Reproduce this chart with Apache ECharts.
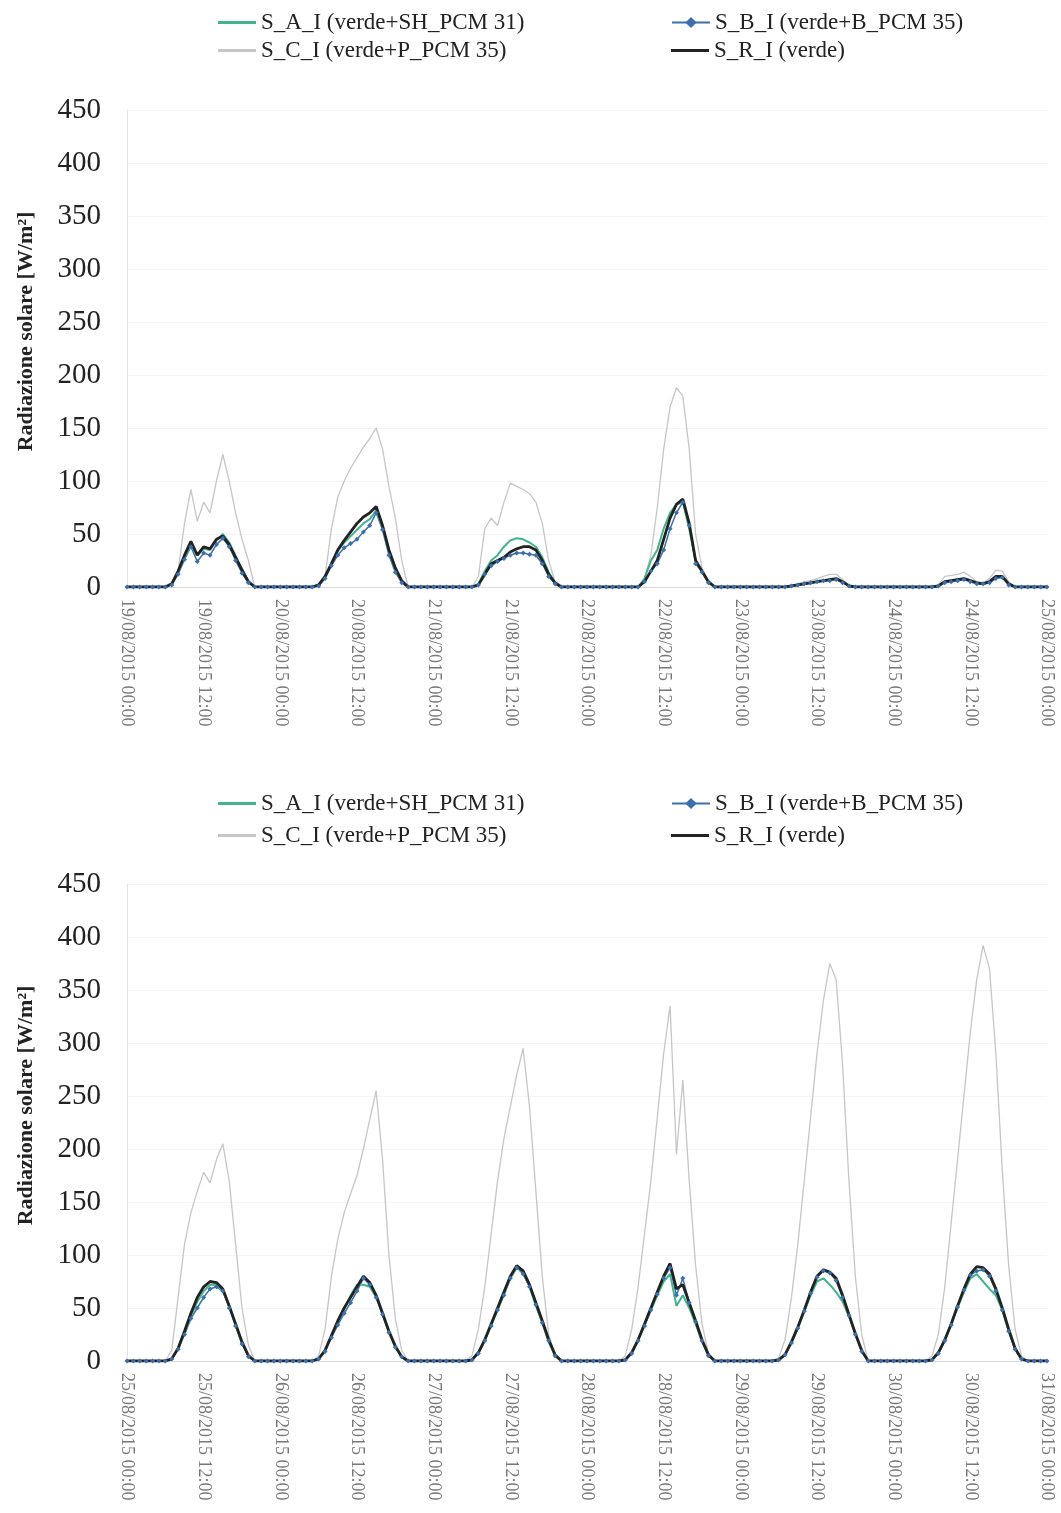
<!DOCTYPE html>
<html>
<head>
<meta charset="utf-8">
<script src="https://cdn.jsdelivr.net/npm/echarts@6/dist/echarts.min.js"></script>
<style>html,body{margin:0;padding:0;background:#fff}#c{width:1061px;height:1513px}</style>
</head>
<body>
<div id="c"></div>
<script>
// ---------- names ----------
const seriesNames = ['S_A_I (verde+SH_PCM 31)', 'S_B_I (verde+B_PCM 35)', 'S_C_I (verde+P_PCM 35)', 'S_R_I (verde)'];

// ---------- tick labels (every 12 hours) ----------
const topTicks = ['19/08/2015 00:00','19/08/2015 12:00','20/08/2015 00:00','20/08/2015 12:00','21/08/2015 00:00','21/08/2015 12:00','22/08/2015 00:00','22/08/2015 12:00','23/08/2015 00:00','23/08/2015 12:00','24/08/2015 00:00','24/08/2015 12:00','25/08/2015 00:00'];
const botTicks = ['25/08/2015 00:00','25/08/2015 12:00','26/08/2015 00:00','26/08/2015 12:00','27/08/2015 00:00','27/08/2015 12:00','28/08/2015 00:00','28/08/2015 12:00','29/08/2015 00:00','29/08/2015 12:00','30/08/2015 00:00','30/08/2015 12:00','31/08/2015 00:00'];
const yTicks = [0, 50, 100, 150, 200, 250, 300, 350, 400, 450];

// ---------- hourly values, top chart (19/08 - 25/08) ----------
const topA = [
0,0,0,0,0,0,0,3,14,28,40,30,36,35,44,50,42,29,17,5,0,0,0,0,
0,0,0,0,0,0,2,10,22,34,42,48,54,60,64,72,56,33,16,5,0,0,0,0,
0,0,0,0,0,0,0,3,15,25,30,38,44,46,45,42,38,28,14,4,0,0,0,0,
0,0,0,0,0,0,0,0,0,8,25,35,55,70,78,80,55,25,15,5,0,0,0,0,
0,0,0,0,0,0,0,0,1,2,3,4,5,6,7,7,5,1,0,0,0,0,0,0,
0,0,0,0,0,0,0,1,5,6,7,8,6,4,3,5,9,10,3,0,0,0,0,0,
0];
const topB = [
0,0,0,0,0,0,0,2,12,26,38,24,32,30,40,46,38,25,13,4,0,0,0,0,
0,0,0,0,0,0,1,8,20,30,37,41,45,52,58,70,54,30,14,4,0,0,0,0,
0,0,0,0,0,0,0,2,12,20,24,27,30,32,32,31,30,22,10,3,0,0,0,0,
0,0,0,0,0,0,0,0,0,5,15,22,35,55,70,80,58,22,14,4,0,0,0,0,
0,0,0,0,0,0,0,0,1,2,3,4,5,6,6,7,4,1,0,0,0,0,0,0,
0,0,0,0,0,0,0,1,4,5,6,7,5,3,3,4,8,9,2,0,0,0,0,0,
0];
const topC = [
0,0,0,0,0,0,0,2,15,60,92,62,80,70,100,125,100,70,45,25,0,0,0,0,
0,0,0,0,0,0,0,10,55,85,100,112,122,132,140,150,130,95,65,25,0,0,0,0,
0,0,0,0,0,0,0,10,55,65,58,80,98,95,92,88,80,60,25,5,0,0,0,0,
0,0,0,0,0,0,0,0,0,8,30,75,130,170,188,180,130,50,18,5,0,0,0,0,
0,0,0,0,0,0,0,0,1,3,5,6,8,10,12,12,7,2,0,0,0,0,0,0,
0,0,0,0,0,0,0,2,10,11,12,14,10,5,4,8,16,15,5,0,0,0,0,0,
0];
const topR = [
0,0,0,0,0,0,0,3,15,30,43,30,38,36,45,48,40,28,16,5,0,0,0,0,
0,0,0,0,0,0,2,10,22,35,44,52,60,66,70,76,58,35,18,6,0,0,0,0,
0,0,0,0,0,0,0,2,12,22,25,28,33,36,38,38,35,25,12,4,0,0,0,0,
0,0,0,0,0,0,0,0,0,5,15,25,45,65,78,83,60,25,15,5,0,0,0,0,
0,0,0,0,0,0,0,0,1,2,3,4,5,6,7,8,5,1,0,0,0,0,0,0,
0,0,0,0,0,0,0,1,5,6,7,8,6,4,3,5,10,10,3,0,0,0,0,0,
0];

// ---------- hourly values, bottom chart (25/08 - 31/08) ----------
const botA = [
0,0,0,0,0,0,0,2,12,26,42,56,66,72,72,66,52,34,17,5,0,0,0,0,
0,0,0,0,0,0,2,10,23,37,50,62,72,72,70,60,44,27,13,4,0,0,0,0,
0,0,0,0,0,0,1,8,20,34,48,63,78,88,84,70,52,36,18,5,0,0,0,0,
0,0,0,0,0,0,1,8,20,34,48,62,75,82,52,62,50,35,18,5,0,0,0,0,
0,0,0,0,0,0,1,6,17,31,46,62,75,78,72,65,56,42,25,9,0,0,0,0,
0,0,0,0,0,0,1,8,19,34,50,65,78,82,75,68,62,48,28,11,2,0,0,0,
0];
const botB = [
0,0,0,0,0,0,0,2,11,25,40,50,60,68,70,66,50,33,16,4,0,0,0,0,
0,0,0,0,0,0,2,9,22,34,45,55,66,78,72,60,44,27,13,4,0,0,0,0,
0,0,0,0,0,0,1,7,19,33,48,62,78,88,82,70,53,36,19,5,0,0,0,0,
0,0,0,0,0,0,1,7,19,33,48,63,78,88,62,78,55,37,19,5,0,0,0,0,
0,0,0,0,0,0,1,6,17,31,47,64,79,85,83,76,60,43,25,9,0,0,0,0,
0,0,0,0,0,0,1,7,19,34,51,67,81,85,86,80,66,48,28,11,2,0,0,0,
0];
const botC = [
0,0,0,0,0,0,0,10,60,110,140,160,178,168,190,205,170,110,50,15,0,0,0,0,
0,0,0,0,0,0,5,30,80,115,140,158,175,200,228,255,190,100,40,10,0,0,0,0,
0,0,0,0,0,0,5,30,70,120,170,210,240,270,295,240,160,80,25,5,0,0,0,0,
0,0,0,0,0,0,5,30,70,120,170,230,290,335,195,265,170,90,35,8,0,0,0,0,
0,0,0,0,0,0,3,20,60,110,170,230,290,340,375,360,280,170,80,25,0,0,0,0,
0,0,0,0,0,0,5,25,70,130,190,250,310,360,392,370,290,180,90,30,5,0,0,0,
0];
const botR = [
0,0,0,0,0,0,0,2,12,28,45,60,70,75,74,68,52,35,18,5,0,0,0,0,
0,0,0,0,0,0,2,10,24,38,50,60,70,80,74,62,45,28,14,4,0,0,0,0,
0,0,0,0,0,0,1,8,20,35,50,65,80,90,85,72,55,38,20,6,0,0,0,0,
0,0,0,0,0,0,1,8,20,35,50,65,80,92,68,72,55,38,20,6,0,0,0,0,
0,0,0,0,0,0,1,6,18,32,48,65,80,86,84,78,62,44,26,10,0,0,0,0,
0,0,0,0,0,0,1,8,20,35,52,68,82,89,88,82,68,50,30,12,2,0,0,0,
0];

// ---------- build ----------
const hours = topR.map((_, i) => i);
const SERIF = 'Liberation Serif';
const colors = { A: '#3fb58d', B: '#3b6fae', C: '#c6c6c6', R: '#222222' };

function xAxis(gridIndex, ticks) {
  return {
    type: 'category', gridIndex, data: hours, boundaryGap: false,
    axisLine: { show: true, lineStyle: { color: '#d9d9d9' } },
    axisTick: { show: false },
    axisLabel: {
      interval: 11, rotate: -90, margin: 12,
      fontFamily: SERIF, fontSize: 18, color: '#777',
      formatter: (v, idx) => (idx % 12 === 0 ? ticks[idx / 12] : '')
    },
    splitLine: { show: false }
  };
}
function yAxis(gridIndex) {
  return {
    type: 'value', gridIndex, min: yTicks[0], max: yTicks[yTicks.length - 1], interval: 50,
    name: 'Radiazione solare [W/m²]', nameLocation: 'middle', nameGap: 90,
    nameTextStyle: { fontFamily: SERIF, fontSize: 22, fontWeight: 'bold', color: '#222', padding: [0, 0, 0, 34] },
    axisLine: { show: true, lineStyle: { color: '#e6e6e6' } },
    axisTick: { show: false },
    axisLabel: { fontFamily: SERIF, fontSize: 29, color: '#222', margin: 26 },
    splitLine: { show: true, lineStyle: { color: '#f5f5f5' } }
  };
}
function seriesFor(idx, A, B, C, R) {
  return [
    { name: seriesNames[2], type: 'line', xAxisIndex: idx, yAxisIndex: idx, data: C,
      symbol: 'none', lineStyle: { color: colors.C, width: 1.3 }, itemStyle: { color: colors.C }, animation: false },
    { name: seriesNames[1], type: 'line', xAxisIndex: idx, yAxisIndex: idx, data: B,
      symbol: 'diamond', symbolSize: 5, showAllSymbol: true,
      lineStyle: { color: colors.B, width: 1.5 }, itemStyle: { color: colors.B }, animation: false },
    { name: seriesNames[0], type: 'line', xAxisIndex: idx, yAxisIndex: idx, data: A,
      symbol: 'none', lineStyle: { color: colors.A, width: 2 }, itemStyle: { color: colors.A }, animation: false },
    { name: seriesNames[3], type: 'line', xAxisIndex: idx, yAxisIndex: idx, data: R,
      symbol: 'none', lineStyle: { color: colors.R, width: 2.8 }, itemStyle: { color: colors.R }, animation: false }
  ];
}
function legendFor(name, left, top, withMarker) {
  return {
    data: [withMarker ? { name } : { name, icon: 'rect' }],
    left, top,
    itemWidth: 38, itemHeight: withMarker ? 14 : 3, itemGap: 4,
    textStyle: { fontFamily: SERIF, fontSize: 23, color: '#222' }
  };
}

const option = {
  backgroundColor: '#ffffff',
  animation: false,
  legend: [
    legendFor(seriesNames[0], 213, 6, false), legendFor(seriesNames[1], 666, 6, true),
    legendFor(seriesNames[2], 213, 34, false), legendFor(seriesNames[3], 666, 34, false),
    legendFor(seriesNames[0], 213, 787, false), legendFor(seriesNames[1], 666, 787, true),
    legendFor(seriesNames[2], 213, 819, false), legendFor(seriesNames[3], 666, 819, false)
  ],
  grid: [
    { left: 127, top: 110, width: 920, height: 477 },
    { left: 127, top: 884, width: 920, height: 477 }
  ],
  xAxis: [xAxis(0, topTicks), xAxis(1, botTicks)],
  yAxis: [yAxis(0), yAxis(1)],
  series: [...seriesFor(0, topA, topB, topC, topR), ...seriesFor(1, botA, botB, botC, botR)]
};

const chart = echarts.init(document.getElementById('c'), null, { renderer: 'canvas' });
chart.setOption(option);
</script>
</body>
</html>
